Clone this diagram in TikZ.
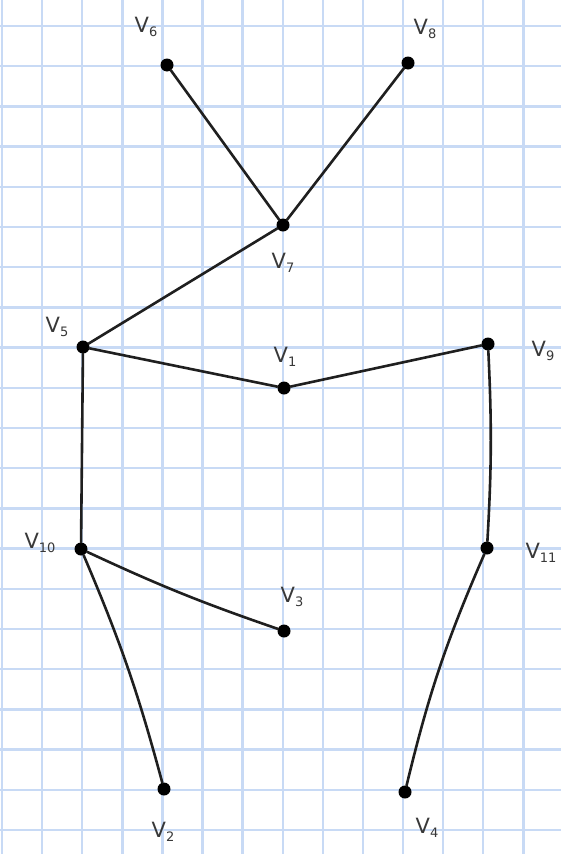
\documentclass[tikz,border=0pt]{standalone}
\usepackage{fontspec}
\setmainfont{DejaVu Sans}
\newcommand{\vlab}[1]{V\raisebox{-0.35ex}{\fontsize{13}{13}\selectfont #1}}
\begin{document}
\begin{tikzpicture}[x=1pt,y=-1pt,
  gridline/.style={draw={rgb,255:red,200;green,218;blue,245},line width=2.4pt},
  dot/.style={circle,fill=black,inner sep=0pt,minimum size=13pt},
  edge/.style={draw=black!88,line width=2.6pt,line cap=round},
  lbl/.style={font=\fontsize{21}{21}\selectfont,text=black!78,inner sep=0pt}]
\useasboundingbox (0,0) rectangle (561,854);
\fill[white] (0,0) rectangle (561,854);
\foreach \i in {0,...,14} {\draw[gridline] ({2+40.1*\i},0) -- ({2+40.1*\i},854);}
\foreach \j in {0,...,21} {\draw[gridline] (0,{26+40.2*(\j-1)}) -- (561,{26+40.2*(\j-1)});}
% nodes
\node[dot] (v6) at (167,65) {};
\node[dot] (v8) at (408,63) {};
\node[dot] (v7) at (283,225) {};
\node[dot] (v5) at (83,347) {};
\node[dot] (v1) at (284,388) {};
\node[dot] (v9) at (488,344) {};
\node[dot] (v10) at (81,549) {};
\node[dot] (v11) at (487,548) {};
\node[dot] (v3) at (284,631) {};
\node[dot] (v2) at (164,789) {};
\node[dot] (v4) at (405,792) {};
% labels
\node[lbl] (l6) at (146,27) {\vlab{6}};
\node[lbl] (l8) at (425,29) {\vlab{8}};
\node[lbl] (l7) at (283,263) {\vlab{7}};
\node[lbl] (l5) at (57,327) {\vlab{5}};
\node[lbl] (l1) at (285,357) {\vlab{1}};
\node[lbl] (l9) at (543,351) {\vlab{9}};
\node[lbl] (l10) at (40,543) {\vlab{10}};
\node[lbl] (l11) at (541,553) {\vlab{11}};
\node[lbl] (l3) at (292,597) {\vlab{3}};
\node[lbl] (l2) at (163,832) {\vlab{2}};
\node[lbl] (l4) at (427,828) {\vlab{4}};
% edges
\draw[edge] (v6) -- (v7);
\draw[edge] (v8) -- (v7);
\draw[edge] (v7) -- (v5);
\draw[edge] (v5) -- (v1);
\draw[edge] (v1) -- (v9);
\draw[edge] (v5) -- (v10);
\draw[edge] (v9) to[bend left=3] (v11);
\draw[edge] (v10) to[bend left=-3] (v3);
\draw[edge] (v10) to[bend left=4] (v2);
\draw[edge] (v11) to[bend left=-5] (v4);
\end{tikzpicture}
\end{document}
